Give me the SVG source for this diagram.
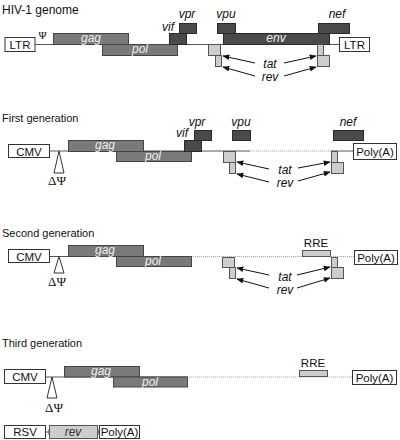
<svg xmlns="http://www.w3.org/2000/svg" width="400" height="440" viewBox="0 0 400 440">
<defs>
<marker id="ah" viewBox="0 0 10 10" refX="9" refY="5" markerWidth="7" markerHeight="7" orient="auto" markerUnits="userSpaceOnUse">
<path d="M0,1 L10,5 L0,9 z" fill="#111"/>
</marker>
<style>
text{font-family:"Liberation Sans",Arial,sans-serif;fill:#111}
.title{font-size:11px}
.h1{font-size:12px}
.bl{font-size:11.5px;text-anchor:middle}
.gl{font-size:12px;font-style:italic;text-anchor:middle}
.wl{fill:#eee}
.serif{font-family:"Liberation Serif","DejaVu Serif",serif;font-size:13px;text-anchor:middle}
.box{fill:#fff;stroke:#333;stroke-width:1}
.mid{fill:#7a7a7a;stroke:#444;stroke-width:1}
.dark{fill:#4a4a4a;stroke:#2a2a2a;stroke-width:1}
.light{fill:#cdcdcd;stroke:#555;stroke-width:1}
.ln{stroke:#555;stroke-width:1;fill:none}
.dot{stroke:#aaa;stroke-width:1;stroke-dasharray:1.2 0.8;fill:none}
.arr{stroke:#111;stroke-width:1;fill:none;marker-end:url(#ah)}
.tri{fill:#fff;stroke:#333;stroke-width:1}
</style>
</defs>

<g id="connectors">
<line class="ln" x1="35" y1="44.5" x2="339" y2="44.5"/>
<line class="ln" x1="49" y1="151" x2="250" y2="151"/>
<line class="dot" x1="250" y1="151" x2="331" y2="151"/>
<line class="ln" x1="331" y1="151" x2="353" y2="151"/>
<line class="ln" x1="49" y1="256.5" x2="191" y2="256.5"/>
<line class="dot" x1="191" y1="256.5" x2="354" y2="256.5"/>
<line class="ln" x1="46" y1="377" x2="187" y2="377"/>
<line class="dot" x1="187" y1="377" x2="352" y2="377"/>
<line class="ln" x1="46" y1="432" x2="49" y2="432"/>
<line class="ln" x1="49" y1="429" x2="49" y2="435"/>
<line class="ln" x1="98" y1="432" x2="99" y2="432"/>
<line class="ln" x1="98" y1="429" x2="98" y2="435"/>
<line class="arr" x1="255" y1="63" x2="223" y2="56"/>
<line class="arr" x1="255" y1="76" x2="223" y2="67"/>
<line class="arr" x1="284" y1="63" x2="316" y2="56"/>
<line class="arr" x1="284" y1="76" x2="316" y2="67"/>
<line class="arr" x1="269" y1="169" x2="237" y2="162"/>
<line class="arr" x1="269" y1="182" x2="237" y2="174"/>
<line class="arr" x1="298" y1="168" x2="330" y2="162"/>
<line class="arr" x1="298" y1="181" x2="330" y2="172"/>
<line class="arr" x1="269" y1="275" x2="237" y2="268"/>
<line class="arr" x1="269" y1="288" x2="237" y2="279"/>
<line class="arr" x1="297" y1="275" x2="330" y2="267"/>
<line class="arr" x1="297" y1="288" x2="330" y2="278"/>
</g>

<g id="hiv">
<text class="h1" x="2" y="14">HIV-1 genome</text>
<g id="hiv-ltr5"><rect class="box" x="5" y="37.5" width="30" height="14"/><text class="bl" x="20" y="49">LTR</text></g>
<text class="serif" x="42.5" y="38.5" style="font-size:11px">Ψ</text>
<g id="hiv-gag"><rect class="mid" x="53.5" y="33.5" width="75" height="11"/><text class="gl wl" x="91" y="42">gag</text></g>
<g id="hiv-pol"><rect class="mid" x="102.5" y="44.5" width="75" height="11"/><text class="gl wl" x="140" y="53">pol</text></g>
<g id="hiv-vif"><rect class="dark" x="169.5" y="33.5" width="17" height="11"/><text class="gl" x="168" y="31">vif</text></g>
<g id="hiv-vpr"><rect class="dark" x="179.5" y="23.5" width="17" height="10"/><text class="gl" x="187" y="18">vpr</text></g>
<g id="hiv-vpu"><rect class="dark" x="217.5" y="23.5" width="18" height="10"/><text class="gl" x="226" y="18">vpu</text></g>
<g id="hiv-env"><rect class="dark" x="223.5" y="33.5" width="106" height="11"/><text class="gl wl" x="276" y="42">env</text></g>
<g id="hiv-nef"><rect class="dark" x="318.5" y="23.5" width="31" height="10"/><text class="gl" x="337" y="18">nef</text></g>
<g id="hiv-tatrev">
<rect class="light" x="208.5" y="44.5" width="12" height="11"/>
<rect class="light" x="215.5" y="55.5" width="6" height="11"/>
<rect class="light" x="317.5" y="44.5" width="6" height="11"/>
<rect class="light" x="317.5" y="55.5" width="12" height="11"/>
<text class="gl" x="270" y="68">tat</text>
<text class="gl" x="270" y="81">rev</text>
</g>
<g id="hiv-ltr3"><rect class="box" x="339.5" y="37.5" width="30" height="14"/><text class="bl" x="354.5" y="49">LTR</text></g>
</g>

<g id="gen1">
<text class="title" x="2" y="122">First generation</text>
<g id="g1-cmv"><rect class="box" x="8.5" y="144.5" width="41" height="13"/><text class="bl" x="29" y="155.5">CMV</text></g>
<g id="g1-psi"><polygon class="tri" points="59,151 54,173 64,173"/><text class="serif" x="57" y="184.5">ΔΨ</text></g>
<g id="g1-gag"><rect class="mid" x="68.5" y="140.5" width="75" height="11"/><text class="gl wl" x="105" y="149">gag</text></g>
<g id="g1-pol"><rect class="mid" x="116.5" y="151.5" width="75" height="10"/><text class="gl wl" x="153" y="160">pol</text></g>
<g id="g1-vif"><rect class="dark" x="184.5" y="140.5" width="17" height="11"/><text class="gl" x="182" y="137">vif</text></g>
<g id="g1-vpr"><rect class="dark" x="194.5" y="130.5" width="17" height="10"/><text class="gl" x="197" y="126">vpr</text></g>
<g id="g1-vpu"><rect class="dark" x="232.5" y="130.5" width="18" height="10"/><text class="gl" x="241" y="126">vpu</text></g>
<g id="g1-nef"><rect class="dark" x="333.5" y="130.5" width="30" height="10"/><text class="gl" x="348" y="126">nef</text></g>
<g id="g1-tatrev">
<rect class="light" x="223.5" y="151.5" width="12" height="11"/>
<rect class="light" x="229.5" y="162.5" width="6" height="11"/>
<rect class="light" x="331.5" y="151.5" width="6" height="11"/>
<rect class="light" x="331.5" y="162.5" width="12" height="11"/>
<text class="gl" x="285" y="174">tat</text>
<text class="gl" x="285" y="187">rev</text>
</g>
<g id="g1-polya"><rect class="box" x="353.5" y="143.5" width="43" height="16"/><text class="bl" x="375" y="155.5">Poly(A)</text></g>
</g>

<g id="gen2">
<text class="title" x="2" y="237">Second generation</text>
<g id="g2-cmv"><rect class="box" x="8.5" y="249.5" width="41" height="13"/><text class="bl" x="29" y="260.5">CMV</text></g>
<g id="g2-psi"><polygon class="tri" points="59,256.5 54,273 64,273"/><text class="serif" x="57" y="285.5">ΔΨ</text></g>
<g id="g2-gag"><rect class="mid" x="68.5" y="245.5" width="75" height="11"/><text class="gl wl" x="105" y="254">gag</text></g>
<g id="g2-pol"><rect class="mid" x="116.5" y="256.5" width="75" height="10"/><text class="gl wl" x="153" y="265">pol</text></g>
<g id="g2-rre"><rect class="light" x="302.5" y="250.5" width="28" height="6"/><text class="bl" x="316" y="247">RRE</text></g>
<g id="g2-tatrev">
<rect class="light" x="222.5" y="257.5" width="12" height="10"/>
<rect class="light" x="229.5" y="267.5" width="6" height="11"/>
<rect class="light" x="331.5" y="257.5" width="6" height="10"/>
<rect class="light" x="331.5" y="267.5" width="12" height="11"/>
<text class="gl" x="285" y="281">tat</text>
<text class="gl" x="285" y="294">rev</text>
</g>
<g id="g2-polya"><rect class="box" x="354.5" y="250.5" width="43" height="14"/><text class="bl" x="376" y="261.5">Poly(A)</text></g>
</g>

<g id="gen3">
<text class="title" x="2" y="347">Third generation</text>
<g id="g3-cmv"><rect class="box" x="4.5" y="369.5" width="41" height="14"/><text class="bl" x="25" y="381">CMV</text></g>
<g id="g3-psi"><polygon class="tri" points="52,377 47,398 57,398"/><text class="serif" x="54" y="411.5">ΔΨ</text></g>
<g id="g3-gag"><rect class="mid" x="64.5" y="366.5" width="75" height="10.5"/><text class="gl wl" x="101" y="375">gag</text></g>
<g id="g3-pol"><rect class="mid" x="113.5" y="377" width="74" height="10"/><text class="gl wl" x="150" y="386">pol</text></g>
<g id="g3-rre"><rect class="light" x="299.5" y="370.5" width="28" height="6"/><text class="bl" x="313" y="367">RRE</text></g>
<g id="g3-polya"><rect class="box" x="352.5" y="370.5" width="44" height="14"/><text class="bl" x="374.5" y="381.5">Poly(A)</text></g>
<g id="g3-rsv"><rect class="box" x="4.5" y="425.5" width="41" height="13"/><text class="bl" x="25" y="436">RSV</text></g>
<g id="g3-rev"><rect class="light" x="49.5" y="425.5" width="48" height="13"/><text class="gl" x="73" y="436" style="fill:#333">rev</text></g>
<g id="g3-polya2"><rect class="box" x="99.5" y="425.5" width="40" height="13"/><text class="bl" x="119.5" y="436">Poly(A)</text></g>
</g>
</svg>
